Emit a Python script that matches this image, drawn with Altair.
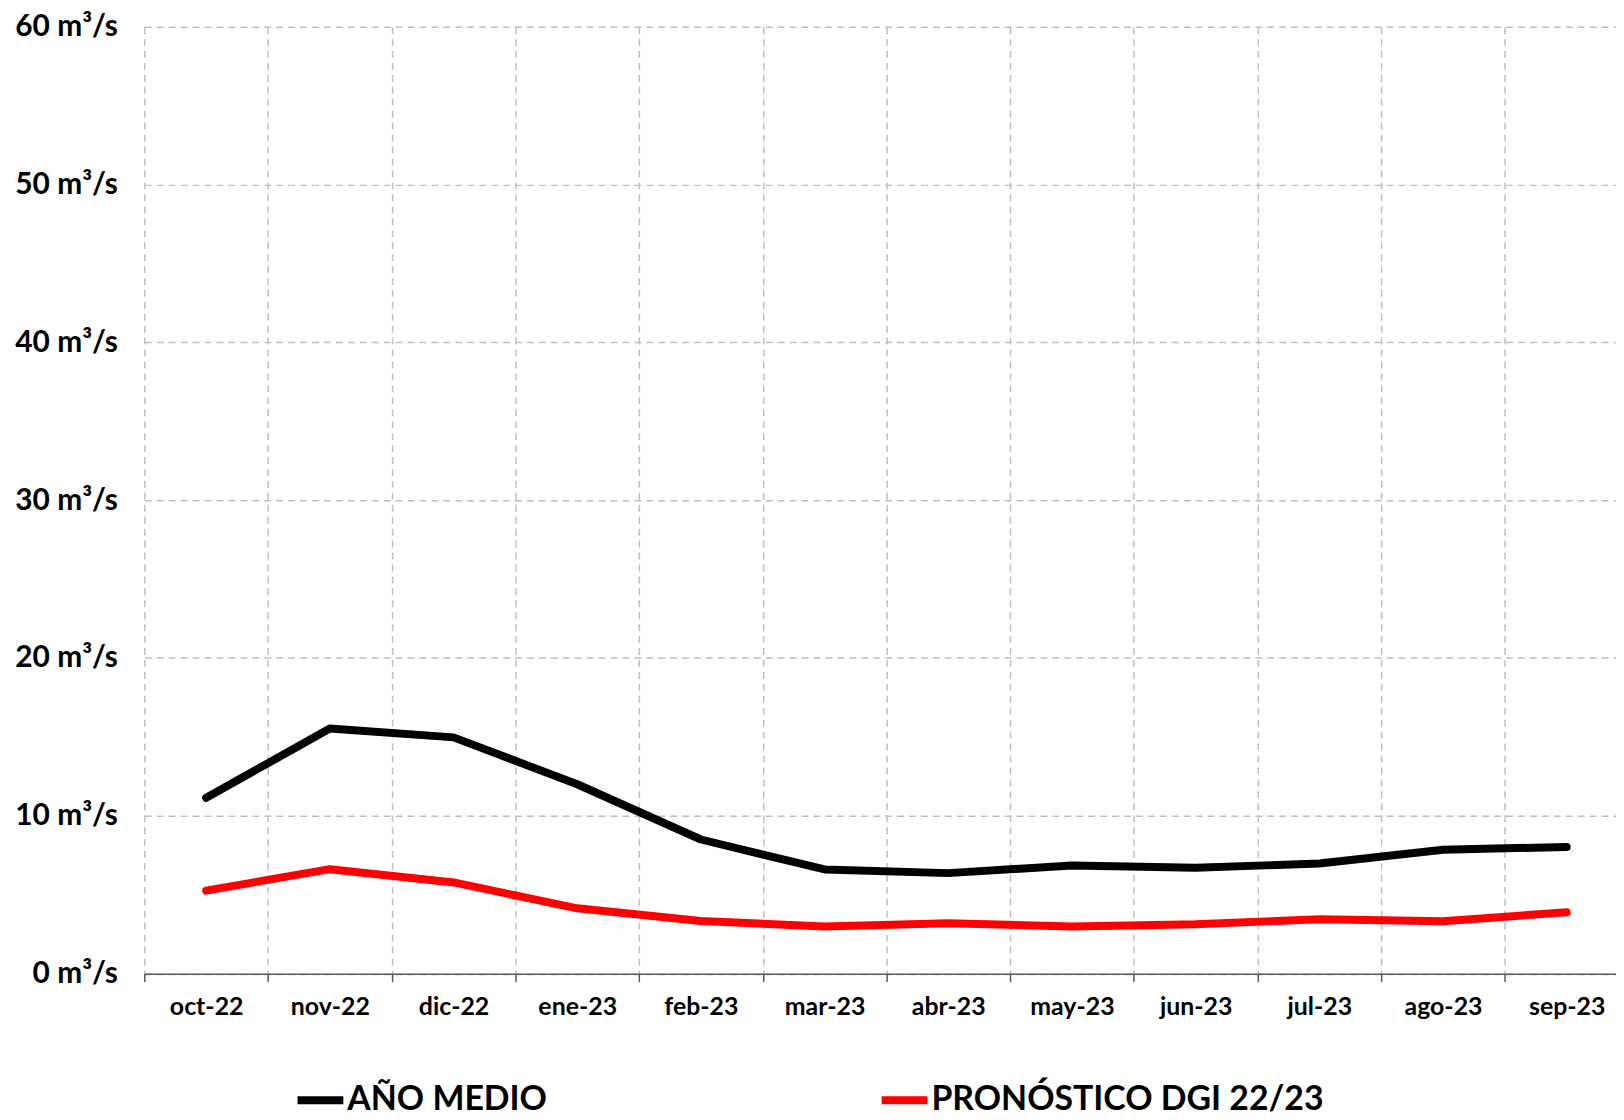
import altair as alt
import pandas as pd

months = ["oct-22", "nov-22", "dic-22", "ene-23", "feb-23", "mar-23",
          "abr-23", "may-23", "jun-23", "jul-23", "ago-23", "sep-23"]
ano_medio = [11.14, 15.53, 14.97, 12.0, 8.5, 6.6, 6.37, 6.85, 6.71, 6.98, 7.85, 8.03]
pronostico = [5.26, 6.62, 5.78, 4.14, 3.34, 2.99, 3.2, 2.99, 3.13, 3.45, 3.32, 3.89]
series_names = ["AÑO MEDIO", "PRONÓSTICO DGI 22/23"]
series_colors = ["#000000", "#ff0000"]
y_ticks = [0, 10, 20, 30, 40, 50, 60]

rows = []
for name, vals in zip(series_names, [ano_medio, pronostico]):
    for m, v in zip(months, vals):
        rows.append({"mes": m, "caudal": v, "serie": name})
df = pd.DataFrame(rows)

FONT = "Lato"
PLOT_W = 1479
BAND_RANGE = 1491.6
PLOT_H = 951.7
GRID = "#bfbfbf"
AXIS = "#595959"

chart = alt.Chart(df).mark_line(
    strokeWidth=8, strokeCap="round", strokeJoin="round"
).encode(
    x=alt.X(
        "mes:N", sort=months,
        scale=alt.Scale(type="band", range=[0, BAND_RANGE], paddingInner=0, paddingOuter=0),
        axis=alt.Axis(
            title=None, labelAngle=0, tickBand="extent",
            grid=True, gridColor=GRID, gridDash=[7, 5], gridWidth=1.5,
            domainColor=AXIS, domainWidth=1.5,
            ticks=True, tickColor=AXIS, tickWidth=1.5, tickSize=8,
            labelFont=FONT, labelFontSize=25, labelFontWeight="bold",
            labelColor="#000000", labelPadding=13,
        ),
    ),
    y=alt.Y(
        "caudal:Q",
        scale=alt.Scale(domain=[0, 60], nice=False),
        axis=alt.Axis(
            title=None, values=y_ticks, labelExpr="datum.label + ' m³/s'",
            grid=True, gridColor=GRID, gridDash=[7, 5], gridWidth=1.5,
            domain=False, ticks=False,
            labelFont=FONT, labelFontSize=30, labelFontWeight="bold",
            labelColor="#000000", labelPadding=27,
        ),
    ),
    color=alt.Color(
        "serie:N",
        scale=alt.Scale(domain=series_names, range=series_colors),
        legend=alt.Legend(
            title=None, orient="none", legendX=150, legendY=1052,
            direction="horizontal", symbolType="stroke", symbolSize=2116,
            symbolStrokeWidth=8, labelFont=FONT, labelFontSize=34,
            labelFontWeight="bold", labelColor="#000000", labelOffset=0,
            labelLimit=1000, columnPadding=320, padding=0,
        ),
    ),
).properties(
    width=PLOT_W, height=PLOT_H,
    autosize=alt.AutoSizeParams(type="none"),
    padding={"left": 137, "top": 16, "right": 0, "bottom": 144},
).configure_view(stroke=None)

chart.save("out.html", embed_options={"renderer": "svg", "actions": False})
